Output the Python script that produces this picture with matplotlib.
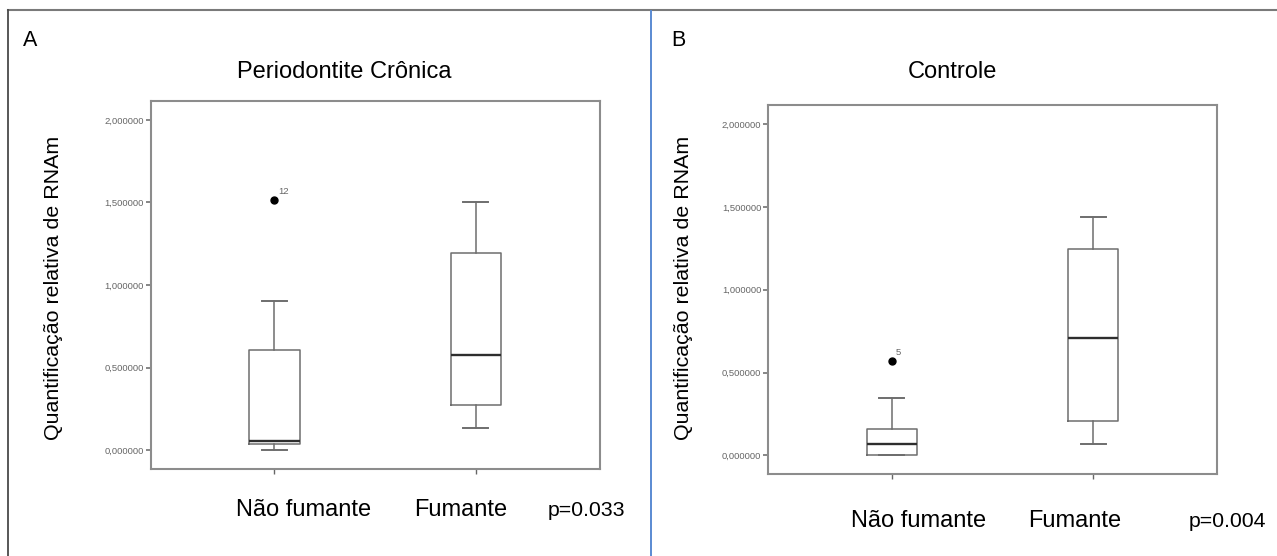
import matplotlib
matplotlib.use("Agg")
import matplotlib.pyplot as plt
from matplotlib.lines import Line2D

plt.rcParams['font.family'] = ['Liberation Sans', 'DejaVu Sans']

W, H = 1277, 556

# ---------------- data ----------------
categories = ["Não fumante", "Fumante"]
ytick_values = [0.0, 0.5, 1.0, 1.5, 2.0]
ytick_labels = ["0,000000", "0,500000", "1,000000", "1,500000", "2,000000"]

# Panel A: Periodontite Crônica
a_whislo = [0.000, 0.134]
a_q1 = [0.039, 0.273]
a_med = [0.059, 0.579]
a_q3 = [0.608, 1.196]
a_whishi = [0.906, 1.505]
a_fliers = [[1.513], []]
a_flier_ids = [["12"], []]

# Panel B: Controle
b_whislo = [0.000, 0.067]
b_q1 = [0.003, 0.210]
b_med = [0.067, 0.706]
b_q3 = [0.161, 1.246]
b_whishi = [0.347, 1.442]
b_fliers = [[0.567], []]
b_flier_ids = [["5"], []]

titles = ["Periodontite Crônica", "Controle"]
panel_letters = ["A", "B"]
pvalues = ["p=0.033", "p=0.004"]
ylabel = "Quantificação relativa de RNAm"

fig = plt.figure(figsize=(W / 100, H / 100), dpi=100)


def fx(x):
    return x / W


def fy(y):
    return 1 - y / H


def draw_panel(ax_box, whislo, q1, med, q3, whishi, fliers, ids):
    l, t, r, b = ax_box
    ax = fig.add_axes([fx(l), fy(b), (r - l) / W, (b - t) / H])
    stats = []
    for i, c in enumerate(categories):
        stats.append(dict(med=med[i], q1=q1[i], q3=q3[i], whislo=whislo[i],
                          whishi=whishi[i], fliers=fliers[i], label=c))
    pos = [1, 2]
    ax.bxp(stats, positions=pos, widths=0.25, capwidths=0.125,
           boxprops=dict(color='#6e6e6e', lw=1.1),
           whiskerprops=dict(color='#6e6e6e', lw=1.1),
           capprops=dict(color='#6e6e6e', lw=1.4),
           medianprops=dict(color='#2e2e2e', lw=1.7),
           flierprops=dict(marker='o', markerfacecolor='black',
                           markeredgecolor='black', markersize=5),
           showfliers=True, manage_ticks=False)
    for i in range(len(categories)):
        for v, lab in zip(fliers[i], ids[i]):
            ax.annotate(lab, (pos[i], v), xytext=(3, 3), textcoords='offset points',
                        fontsize=6.8, color='#666666', ha='left', va='bottom')
    ax.set_xlim(0.386, 2.615)
    ax.set_ylim(-0.113, 2.116)
    ax.set_yticks(ytick_values)
    ax.set_yticklabels(ytick_labels)
    ax.set_xticks(pos)
    ax.set_xticklabels(["", ""])
    ax.tick_params(axis='y', length=3.8, width=1.1, color='#666666',
                   labelsize=6.8, labelcolor='#666666', pad=1.2)
    ax.tick_params(axis='x', length=3.8, width=1.0, color='#666666', pad=0)
    for s in ax.spines.values():
        s.set_color('#8c8c8c')
        s.set_linewidth(1.5)
    return ax


# Panel A
draw_panel((150.7, 100.7, 599.7, 469.0), a_whislo, a_q1, a_med, a_q3, a_whishi,
           a_fliers, a_flier_ids)
# Panel B
draw_panel((768.3, 105.0, 1217.0, 474.0), b_whislo, b_q1, b_med, b_q3, b_whishi,
           b_fliers, b_flier_ids)

# frame lines
fig.add_artist(Line2D([fx(8), fx(1277)], [fy(10), fy(10)], color='#7a7a7a', lw=1.5))
fig.add_artist(Line2D([fx(8.3), fx(8.3)], [fy(10), fy(556)], color='#4a4a4a', lw=1.3))
fig.add_artist(Line2D([fx(651.3), fx(651.3)], [fy(11), fy(556)], color='#5a8ad2', lw=1.4))

# texts panel A
fig.text(fx(23), fy(46), panel_letters[0], fontsize=15.5, ha='left', va='baseline')
fig.text(fx(344.5), fy(78), titles[0], fontsize=17, ha='center', va='baseline')
fig.text(fx(304), fy(516), categories[0], fontsize=17, ha='center', va='baseline')
fig.text(fx(460.5), fy(516), categories[1], fontsize=17, ha='center', va='baseline')
fig.text(fx(586.5), fy(516), pvalues[0], fontsize=15.3, ha='center', va='baseline')
fig.text(fx(54), fy(288), ylabel, fontsize=15.4, rotation=90, ha='center', va='center')

# texts panel B
fig.text(fx(671.7), fy(46), panel_letters[1], fontsize=15.5, ha='left', va='baseline')
fig.text(fx(952), fy(78), titles[1], fontsize=17, ha='center', va='baseline')
fig.text(fx(919), fy(526.6), categories[0], fontsize=17, ha='center', va='baseline')
fig.text(fx(1075), fy(526.6), categories[1], fontsize=17, ha='center', va='baseline')
fig.text(fx(1227), fy(527), pvalues[1], fontsize=15.3, ha='center', va='baseline')
fig.text(fx(683), fy(288), ylabel, fontsize=15.4, rotation=90, ha='center', va='center')

fig.savefig("out.png", dpi=100, facecolor='white')
